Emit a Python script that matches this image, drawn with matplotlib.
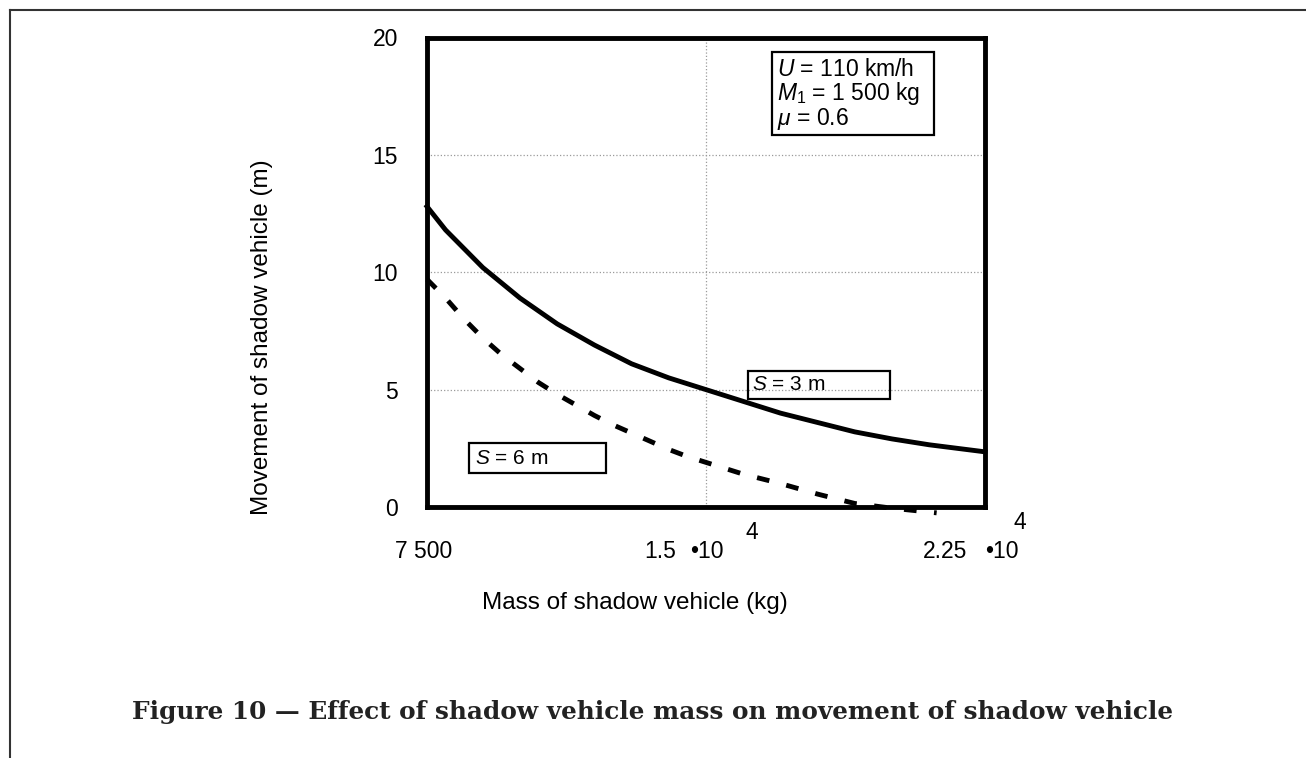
import matplotlib
matplotlib.use("Agg")
import matplotlib.pyplot as plt
from matplotlib.patches import Rectangle
from matplotlib.lines import Line2D

plt.rcParams['font.family'] = ['Liberation Sans', 'DejaVu Sans']
plt.rcParams['mathtext.fontset'] = 'custom'
plt.rcParams['mathtext.rm'] = 'Liberation Sans'
plt.rcParams['mathtext.it'] = 'Liberation Sans:italic'

# mass of shadow vehicle (kg) and movement (m)
mass_s3 = [7500, 8000, 9000, 10000, 11000, 12000, 13000, 14000, 15000,
           16000, 17000, 18000, 19000, 20000, 21000, 22000, 22500]
move_s3 = [12.8, 11.8, 10.2, 8.9, 7.8, 6.9, 6.1, 5.5, 5.0,
           4.5, 4.0, 3.6, 3.2, 2.9, 2.65, 2.45, 2.35]

mass_s6 = [7500, 8000, 8500, 9000, 9500, 10000, 10500, 11000, 11500, 12000,
           12500, 13000, 13500, 14000, 14500, 15000, 16000, 17000, 18000,
           19000, 20000, 21200]
move_s6 = [9.7, 8.9, 8.0, 7.2, 6.5, 5.9, 5.3, 4.8, 4.35, 3.9,
           3.5, 3.15, 2.8, 2.45, 2.15, 1.9, 1.4, 1.0, 0.55,
           0.15, -0.05, -0.25]

yticks = [0, 5, 10, 15, 20]
xticks = [7500, 15000, 22500]

fig = plt.figure(figsize=(13.06, 7.58), dpi=100)
W, H = 1306, 758
ax = fig.add_axes([427 / W, 1 - 507 / H, 558 / W, 469.5 / H])

ax.plot(mass_s3, move_s3, color='black', lw=3.5, clip_on=False)
ax.plot(mass_s6, move_s6, color='black', lw=3.5, clip_on=False,
        dashes=(2.6, 3.6), dash_capstyle='butt')

ax.set_xlim(7500, 22500)
ax.set_ylim(0, 20)
ax.set_yticks(yticks)
ax.set_xticks(xticks)
ax.set_xticklabels([])
ax.tick_params(length=0, labelsize=16.5, pad=21)
ax.grid(True, color='#9a9a9a', linestyle=':', linewidth=0.9)
for s in ax.spines.values():
    s.set_linewidth(3.5)
ax.set_axisbelow(True)

# x tick labels, written the way the original shows them
xt = ax.get_xaxis_transform()
ax.text(7420, -0.094, '7 500', transform=xt, ha='center', va='center', fontsize=16.5)
ax.text(14194, -0.094, '1.5', transform=xt, ha='right', va='center', fontsize=16.5)
ax.text(14570, -0.094, '\u202210', transform=xt, ha='left', va='center', fontsize=16.5)
ax.text(16237, -0.054, '4', transform=xt, ha='center', va='center', fontsize=16.5)
ax.text(22016, -0.094, '2.25', transform=xt, ha='right', va='center', fontsize=16.5)
ax.text(22500, -0.094, '\u202210', transform=xt, ha='left', va='center', fontsize=16.5)
ax.text(23440, -0.034, '4', transform=xt, ha='center', va='center', fontsize=16.5)

fig.text(635 / W, 1 - 603 / H, 'Mass of shadow vehicle (kg)', ha='center', va='center', fontsize=17.5)
fig.text(262 / W, 1 - 337 / H, 'Movement of shadow vehicle (m)', ha='center', va='center',
         rotation=90, fontsize=17.5)

# annotation boxes
ax.add_patch(Rectangle((0.619, 0.792), 0.289, 0.177, transform=ax.transAxes,
                       fill=False, lw=1.6, ec='black'))
ax.text(0.627, 0.918, r'$U$ = 110 km/h', transform=ax.transAxes, va='baseline', fontsize=16.5)
ax.text(0.627, 0.866, r'$M_1$ = 1 500 kg', transform=ax.transAxes, va='baseline', fontsize=16.5)
ax.text(0.627, 0.814, r'$\mu$ = 0.6', transform=ax.transAxes, va='baseline', fontsize=16.5)

ax.add_patch(Rectangle((0.575, 0.230), 0.254, 0.060, transform=ax.transAxes,
                       fill=False, lw=1.6, ec='black'))
ax.text(0.582, 0.260, r'$S$ = 3 m', transform=ax.transAxes, va='center', fontsize=15)

ax.add_patch(Rectangle((0.075, 0.072), 0.246, 0.064, transform=ax.transAxes,
                       fill=False, lw=1.6, ec='black'))
ax.text(0.086, 0.104, r'$S$ = 6 m', transform=ax.transAxes, va='center', fontsize=15)

# page frame lines
fig.add_artist(Line2D([10 / W, 10 / W], [0, 1 - 10 / H], transform=fig.transFigure,
                      color='#333333', lw=1.5))
fig.add_artist(Line2D([10 / W, 1], [1 - 10 / H, 1 - 10 / H], transform=fig.transFigure,
                      color='#333333', lw=1.5))

fig.text(653 / W, 1 - 712 / H,
         'Figure 10 \u2014 Effect of shadow vehicle mass on movement of shadow vehicle',
         ha='center', va='center', fontsize=17.8, fontweight='bold',
         family='DejaVu Serif', color='#222222')

fig.savefig('out.png', dpi=100)
